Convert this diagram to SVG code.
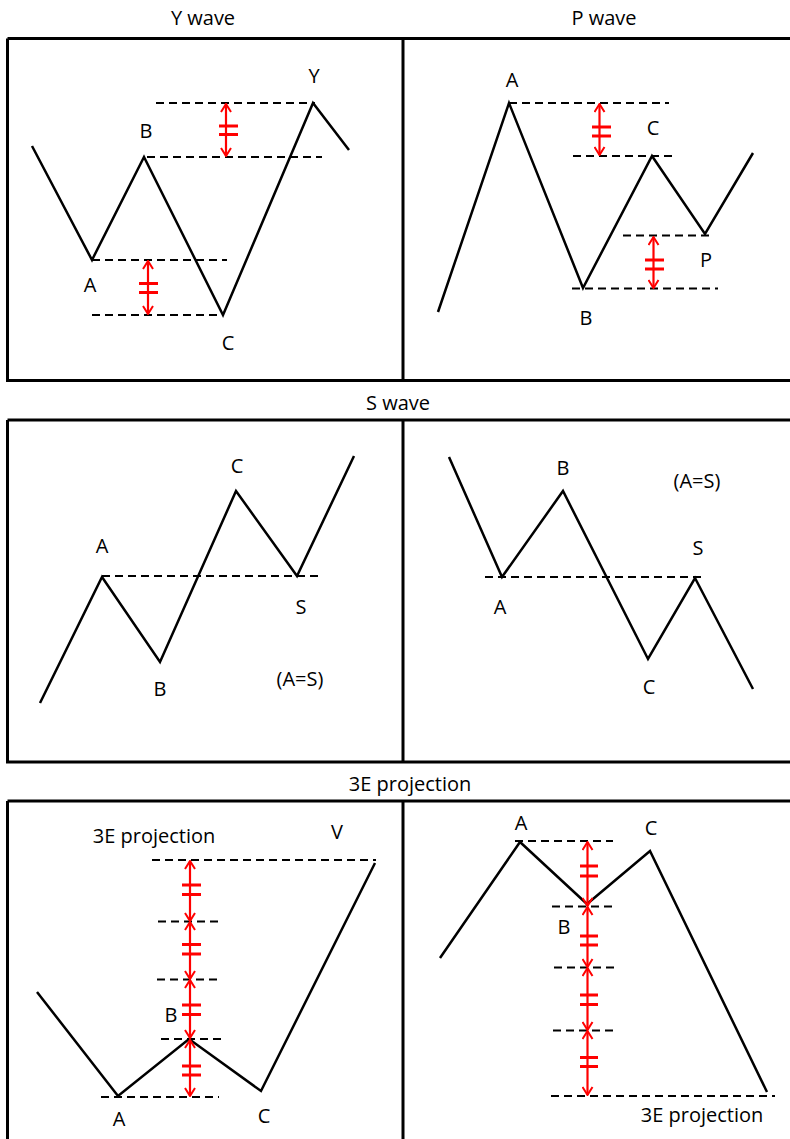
<svg xmlns="http://www.w3.org/2000/svg" width="790" height="1139" viewBox="0 0 790 1139">
<style>
text{font-family:"Open Sans","Liberation Sans",sans-serif;font-size:20px;fill:#000;text-anchor:middle}
.frame{fill:none;stroke:#000;stroke-width:3}
.wave{fill:none;stroke:#000;stroke-width:2.5;stroke-linejoin:miter}
.dash{fill:none;stroke:#000;stroke-width:2;stroke-dasharray:8 5}
.arr{fill:none;stroke:#f00;stroke-width:2.2;marker-start:url(#ah);marker-end:url(#ah)}
.tick{fill:none;stroke:#f00;stroke-width:3}
</style>
<defs>
<marker id="ah" viewBox="0 0 10 12" refX="9" refY="6" markerWidth="10" markerHeight="12" markerUnits="userSpaceOnUse" orient="auto-start-reverse">
<path d="M1,1 L9,6 L1,11" fill="none" stroke="#f00" stroke-width="2"/>
</marker>
</defs>
<rect width="790" height="1139" fill="#fff"/>

<g id="frames">
<path class="frame" d="M7.5,38.5 H792 M7.5,38.5 V380.5 H792 M403,38.5 V380.5"/>
<path class="frame" d="M7.5,420 H792 M7.5,420 V762 H792 M403,420 V762"/>
<path class="frame" d="M7.5,801 H792 M7.5,801 V1141 M403,801 V1141"/>
</g>

<g id="titles">
<text x="203" y="25">Y wave</text>
<text x="604" y="25">P wave</text>
<text x="398" y="410">S wave</text>
<text x="410" y="791">3E projection</text>
</g>

<g id="panel-y-wave">
<polyline class="wave" points="32,146 92,260 144,157 223,315 313,103 349,150"/>
<g class="connectors">
<line class="dash" x1="156" y1="103" x2="315" y2="103"/>
<line class="dash" x1="147" y1="157" x2="322" y2="157"/>
<line class="dash" x1="92" y1="260" x2="227" y2="260"/>
<line class="dash" x1="92" y1="315" x2="223" y2="315"/>
<line class="arr" x1="226" y1="104" x2="226" y2="156"/>
<path class="tick" d="M219,126 H238 M219,134.5 H238"/>
<line class="arr" x1="148" y1="261" x2="148" y2="314"/>
<path class="tick" d="M139,283.5 H158 M139,292.5 H158"/>
</g>
<text x="314" y="83">Y</text>
<text x="146" y="138">B</text>
<text x="90" y="292">A</text>
<text x="228" y="350">C</text>
</g>

<g id="panel-p-wave">
<polyline class="wave" points="438,312 509,103 583,288 652,156 705,234 753,153"/>
<g class="connectors">
<line class="dash" x1="509" y1="103" x2="669" y2="103"/>
<line class="dash" x1="573" y1="156" x2="673" y2="156"/>
<line class="dash" x1="623" y1="235.5" x2="714" y2="235.5"/>
<line class="dash" x1="572" y1="288.5" x2="718" y2="288.5"/>
<line class="arr" x1="599.5" y1="104" x2="599.5" y2="155"/>
<path class="tick" d="M592,127 H611 M592,136 H611"/>
<line class="arr" x1="653.5" y1="237" x2="653.5" y2="288"/>
<path class="tick" d="M645,260 H664 M645,269 H664"/>
</g>
<text x="512" y="87">A</text>
<text x="653" y="135">C</text>
<text x="706" y="267">P</text>
<text x="586" y="325">B</text>
</g>

<g id="panel-s-wave-up">
<polyline class="wave" points="40,703 102,577 160,662 236,491 297,576 354,456"/>
<line class="dash" x1="102" y1="576" x2="318" y2="576"/>
<text x="237" y="473">C</text>
<text x="102" y="553">A</text>
<text x="301" y="614">S</text>
<text x="160" y="696">B</text>
<text x="300" y="686">(A=S)</text>
</g>

<g id="panel-s-wave-down">
<polyline class="wave" points="449,457 502,577 563,491 648,659 695,578 753,689"/>
<line class="dash" x1="485" y1="577" x2="702" y2="577"/>
<text x="563" y="475">B</text>
<text x="697" y="488">(A=S)</text>
<text x="698" y="555">S</text>
<text x="500" y="614">A</text>
<text x="649" y="694">C</text>
</g>

<g id="panel-3e-up">
<polyline class="wave" points="37,992 118,1096 189,1039 261,1091 375,863"/>
<g class="connectors">
<line class="dash" x1="152" y1="860" x2="376" y2="860"/>
<line class="dash" x1="158" y1="921.5" x2="221" y2="921.5"/>
<line class="dash" x1="157" y1="979.5" x2="220" y2="979.5"/>
<line class="dash" x1="161" y1="1039" x2="223" y2="1039"/>
<line class="dash" x1="101" y1="1097" x2="219" y2="1097"/>
<line class="arr" x1="190" y1="861" x2="190" y2="921"/>
<line class="arr" x1="190" y1="922" x2="190" y2="979"/>
<line class="arr" x1="190" y1="980" x2="190" y2="1038"/>
<line class="arr" x1="190" y1="1040" x2="190" y2="1096"/>
<path class="tick" d="M182,885 H201 M182,894.5 H201 M182,944.5 H201 M182,954 H201 M182,1005 H201 M182,1014.5 H201 M182,1066 H201 M182,1075 H201"/>
</g>
<text x="154" y="843">3E projection</text>
<text x="337" y="839">V</text>
<text x="171" y="1022">B</text>
<text x="119" y="1126">A</text>
<text x="264" y="1123">C</text>
</g>

<g id="panel-3e-down">
<polyline class="wave" points="440,958 520,842 587,904 650,851 767,1092"/>
<g class="connectors">
<line class="dash" x1="515" y1="841" x2="613" y2="841"/>
<line class="dash" x1="552" y1="906.5" x2="613" y2="906.5"/>
<line class="dash" x1="554" y1="967.5" x2="617" y2="967.5"/>
<line class="dash" x1="553" y1="1030.5" x2="615" y2="1030.5"/>
<line class="dash" x1="551" y1="1096" x2="775" y2="1096"/>
<line class="arr" x1="587.5" y1="842" x2="587.5" y2="906"/>
<line class="arr" x1="587.5" y1="907" x2="587.5" y2="967"/>
<line class="arr" x1="587.5" y1="968" x2="587.5" y2="1030"/>
<line class="arr" x1="587.5" y1="1031" x2="587.5" y2="1095"/>
<path class="tick" d="M580,866 H598 M580,876 H598 M580,936 H598 M580,945 H598 M580,995 H598 M580,1004.5 H598 M580,1057.5 H598 M580,1066.5 H598"/>
</g>
<text x="521" y="830">A</text>
<text x="651" y="835">C</text>
<text x="564" y="934">B</text>
<text x="702" y="1122">3E projection</text>
</g>
</svg>
